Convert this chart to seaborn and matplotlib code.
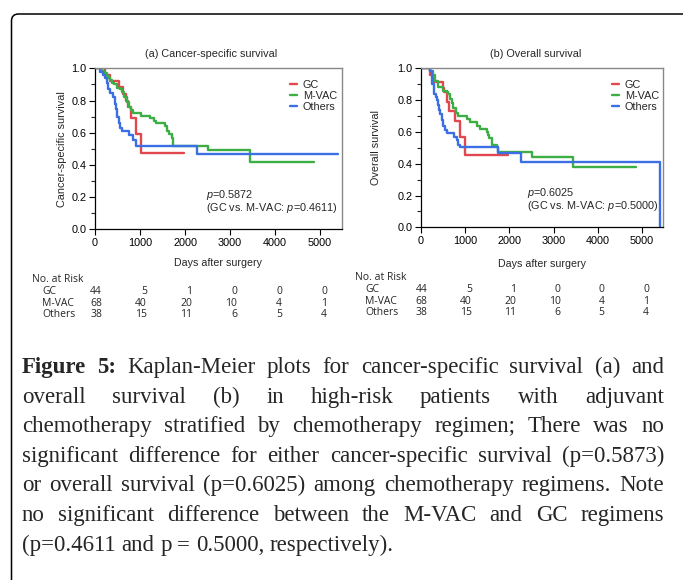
import numpy as np
import pandas as pd
import matplotlib.pyplot as plt
import matplotlib.transforms as mtransforms
from matplotlib.patches import FancyBboxPatch
from matplotlib.ticker import MultipleLocator
import seaborn as sns

groups = ['GC', 'M-VAC', 'Others']
palette = {'GC': '#e0474f', 'M-VAC': '#3cae44', 'Others': '#3c6fe4'}

# (a) cancer-specific survival: days of each step and survival after it
css_gc_t = [0, 222, 333, 541, 630, 689, 741, 793, 904, 1015, 1980]
css_gc_s = [1.0, 0.96, 0.92, 0.886, 0.84, 0.80, 0.76, 0.69, 0.59, 0.472, 0.472]
css_mvac_t = [0, 150, 200, 260, 300, 330, 370, 430, 480, 560, 600, 650, 700, 750, 800, 850,
              1020, 1230, 1300, 1350, 1560, 1600, 1650, 1700, 1740, 2520, 3444, 4867]
css_mvac_s = [1.0, 0.985, 0.97, 0.955, 0.94, 0.93, 0.91, 0.90, 0.88, 0.87, 0.85, 0.82, 0.79, 0.76, 0.74, 0.72,
              0.705, 0.69, 0.675, 0.66, 0.64, 0.61, 0.59, 0.57, 0.518, 0.49, 0.416, 0.416]
css_oth_t = [0, 110, 185, 222, 259, 296, 333, 393, 444, 467, 496, 541, 556, 593, 763, 852, 911, 2260, 5400]
css_oth_s = [1.0, 0.98, 0.96, 0.938, 0.907, 0.87, 0.845, 0.824, 0.78, 0.75, 0.70, 0.658, 0.627, 0.613,
             0.586, 0.556, 0.518, 0.47, 0.47]

# (b) overall survival
os_gc_t = [0, 211, 271, 498, 535, 603, 641, 777, 890, 1003, 1983]
os_gc_s = [1.0, 0.96, 0.916, 0.878, 0.853, 0.79, 0.734, 0.669, 0.57, 0.455, 0.455]
os_mvac_t = [0, 211, 271, 324, 400, 513, 588, 626, 664, 700, 739, 800, 852, 1040, 1116, 1282, 1342,
             1493, 1520, 1553, 1606, 1719, 1757, 2505, 3445, 4867]
os_mvac_s = [1.0, 0.98, 0.96, 0.92, 0.88, 0.86, 0.85, 0.84, 0.81, 0.78, 0.75, 0.72, 0.70, 0.68, 0.665, 0.64, 0.62,
             0.60, 0.58, 0.56, 0.52, 0.503, 0.472, 0.444, 0.382, 0.382]
os_oth_t = [0, 211, 249, 264, 302, 347, 377, 400, 422, 437, 475, 513, 550, 588, 754, 814, 852, 890,
            1757, 2255, 5396]
os_oth_s = [1.0, 0.98, 0.94, 0.90, 0.836, 0.82, 0.80, 0.77, 0.74, 0.71, 0.675, 0.64, 0.612, 0.591, 0.57,
            0.55, 0.52, 0.503, 0.465, 0.413, 0.0]

# number at risk
risk_days = [0, 1000, 2000, 3000, 4000, 5000]
risk_gc = [44, 5, 1, 0, 0, 0]
risk_mvac = [68, 40, 20, 10, 4, 1]
risk_oth = [38, 15, 11, 6, 5, 4]

titles = ['(a) Cancer-specific survival', '(b) Overall survival']
ylabels = ['Cancer-specific survival', 'Overall survival']
pvals = [('0.5872', '0.4611'), ('0.6025', '0.5000')]

caption = [
    "Figure 5: Kaplan-Meier plots for cancer-specific survival (a) and",
    "overall survival (b) in high-risk patients with adjuvant",
    "chemotherapy stratified by chemotherapy regimen; There was no",
    "significant difference for either cancer-specific survival (p=0.5873)",
    "or overall survival (p=0.6025) among chemotherapy regimens. Note",
    "no significant difference between the M-VAC and GC regimens",
    "(p=0.4611 and p = 0.5000, respectively).",
]


def make_df(gc_t, gc_s, mv_t, mv_s, ot_t, ot_s):
    parts = []
    for g, t, s in [('GC', gc_t, gc_s), ('M-VAC', mv_t, mv_s), ('Others', ot_t, ot_s)]:
        parts.append(pd.DataFrame({'days': t, 'surv': s, 'group': g}))
    return pd.concat(parts, ignore_index=True)


dfs = [make_df(css_gc_t, css_gc_s, css_mvac_t, css_mvac_s, css_oth_t, css_oth_s),
       make_df(os_gc_t, os_gc_s, os_mvac_t, os_mvac_s, os_oth_t, os_oth_s)]

sns.set_style('ticks')
plt.rcParams['font.family'] = ['Liberation Sans', 'DejaVu Sans']
plt.rcParams['mathtext.fontset'] = 'custom'
plt.rcParams['mathtext.it'] = 'Liberation Sans:italic'
plt.rcParams['mathtext.rm'] = 'Liberation Sans'

W, H = 683, 580
fig = plt.figure(figsize=(W / 100, H / 100), dpi=100)

# axes boxes in pixels: left, top, right, bottom
boxes = [(95, 68.3, 341.7, 229.3), (420.7, 68.3, 663.3, 227.3)]
legend_x = [0.79, 0.787]
ptext_x = [0.449, 0.437]
ylab_x = [-0.115, -0.162]
xlab_y = [-0.178, -0.2]
risk_top = [279.5, 277.5]
risk_head_x = [32, 355]
risk_lab_x = [42, 365]
small = 7.8
risk_fs = 7.5

for i, (l, t, r, b) in enumerate(boxes):
    ax = fig.add_axes([l / W, 1 - b / H, (r - l) / W, (b - t) / H])
    sns.lineplot(data=dfs[i], x='days', y='surv', hue='group', hue_order=groups,
                 palette=palette, estimator=None, sort=False, drawstyle='steps-post',
                 linewidth=1.7, ax=ax)
    ax.set_xlim(0, 5480)
    ax.set_ylim(0, 1.0)
    ax.xaxis.set_major_locator(MultipleLocator(1000))
    ax.yaxis.set_major_locator(MultipleLocator(0.2))
    ax.yaxis.set_minor_locator(MultipleLocator(0.1))
    ax.yaxis.set_major_formatter(plt.FuncFormatter(lambda v, p: f'{v:.1f}'))
    ax.tick_params(axis='both', which='major', direction='out', length=4, width=0.8,
                   labelsize=small, pad=2, colors='black')
    ax.tick_params(axis='y', which='minor', direction='out', length=3, width=0.8)
    for side in ['left', 'bottom']:
        ax.spines[side].set_color('black')
        ax.spines[side].set_linewidth(0.9)
    for side in ['top', 'right']:
        ax.spines[side].set_color('#888888')
        ax.spines[side].set_linewidth(1.0)
    ax.set_title(titles[i], fontsize=small, x=0.472, y=1.07, pad=0)
    ax.set_ylabel(ylabels[i], fontsize=small)
    ax.yaxis.set_label_coords(ylab_x[i], 0.5)
    ax.set_xlabel('Days after surgery', fontsize=7.7)
    ax.xaxis.set_label_coords(0.5, xlab_y[i])

    handles, labels = ax.get_legend_handles_labels()
    ax.legend(handles, labels, frameon=False, fontsize=small, loc='upper left',
              bbox_to_anchor=(legend_x[i], 0.929), borderaxespad=0, borderpad=0,
              handlelength=0.7, handletextpad=0.5, labelspacing=0.1)

    ax.text(ptext_x[i], 0.213, f'$p$=' + pvals[i][0], transform=ax.transAxes,
            fontsize=small, va='center')
    ax.text(ptext_x[i], 0.132, f'(GC vs. M-VAC: $p$={pvals[i][1]})', transform=ax.transAxes,
            fontsize=small, va='center')

    # number at risk table
    top = risk_top[i]
    fig.text(risk_head_x[i] / W, 1 - top / H, 'No. at Risk', fontsize=risk_fs,
             family='Open Sans', va='center')
    trans = mtransforms.blended_transform_factory(ax.transData, fig.transFigure)
    trans = trans + mtransforms.ScaledTranslation(7 / 100, 0, fig.dpi_scale_trans)
    for j, (name, vals) in enumerate(zip(groups, [risk_gc, risk_mvac, risk_oth])):
        y = 1 - (top + 12 + 11.6 * j) / H
        fig.text(risk_lab_x[i] / W, y, name, fontsize=risk_fs, family='Open Sans', va='center')
        for d, v in zip(risk_days, vals):
            ax.text(d, y, str(v), transform=trans, fontsize=risk_fs, family='Open Sans',
                    ha='right', va='center', clip_on=False)

# outer rounded frame (only top and left edges fall inside the picture)
frame = FancyBboxPatch((11.5, -60), 800, (H - 14) + 60,
                       boxstyle='round,pad=0,rounding_size=7',
                       transform=mtransforms.IdentityTransform(),
                       fill=False, edgecolor='black', linewidth=1.1, clip_on=False)
fig.add_artist(frame)

# justified caption
fig.canvas.draw()
renderer = fig.canvas.get_renderer()
cap_size = 16.5
left_px, right_px = 22, 664
base0, step = 373, 29.6
space_w = cap_size * 100 / 72 * 0.25
for k, line in enumerate(caption):
    words = line.split(' ')
    arts = []
    for n, w in enumerate(words):
        bold = (k == 0 and n < 2)
        txt = fig.text(0, 1 - (base0 + step * k) / H, w, fontsize=cap_size,
                       family=['Liberation Serif', 'DejaVu Serif'],
                       fontweight='bold' if bold else 'normal', va='baseline')
        arts.append(txt)
    widths = [a.get_window_extent(renderer).width for a in arts]
    if k < len(caption) - 1 and len(words) > 1:
        gap = (right_px - left_px - sum(widths)) / (len(words) - 1)
    else:
        gap = space_w
    x = left_px
    for a, w in zip(arts, widths):
        a.set_x(x / W)
        x += w + gap

fig.savefig('out.png', dpi=100)
